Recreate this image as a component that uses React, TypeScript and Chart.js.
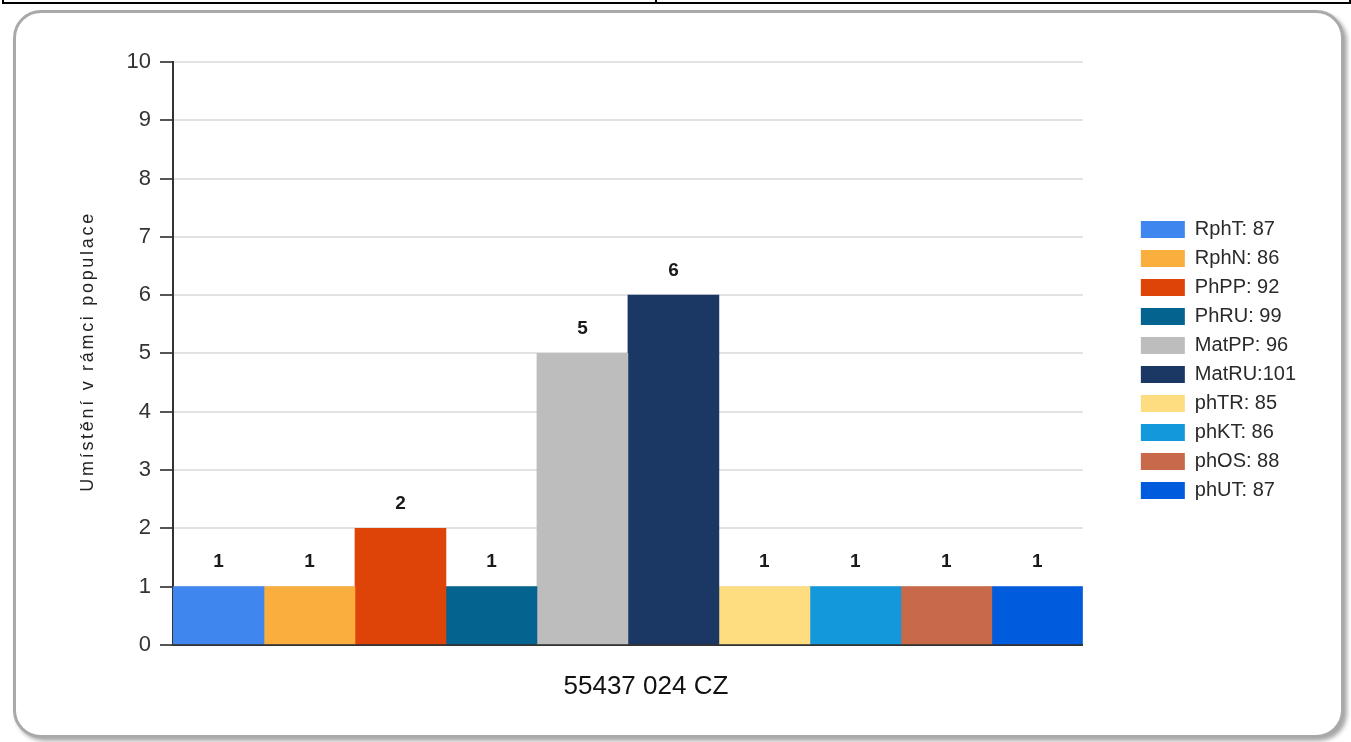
import React, { useEffect, useRef } from "react";
import { Chart, registerables, layouts } from "chart.js";

Chart.register(...registerables);

const category = ["55437 024 CZ"];
const seriesNames = ["RphT", "RphN", "PhPP", "PhRU", "MatPP", "MatRU", "phTR", "phKT", "phOS", "phUT"];
const placements = [1, 1, 2, 1, 5, 6, 1, 1, 1, 1];
const scores = [87, 86, 92, 99, 96, 101, 85, 86, 88, 87];
const colors = ["#3F87EE", "#F9AE3E", "#DE4308", "#05648F", "#BDBDBD", "#1B3764", "#FEDD80", "#1399DB", "#C8694A", "#005BDD"];
const yTicks = [0, 1, 2, 3, 4, 5, 6, 7, 8, 9, 10];
const yTitle = "Umístění v rámci populace";

const FONT = "'Liberation Sans', Arial, sans-serif";

const valueLabels = {
  id: "valueLabels",
  afterDatasetsDraw(chart: any) {
    const ctx = chart.ctx;
    ctx.save();
    ctx.font = `bold 19px ${FONT}`;
    ctx.fillStyle = "#1a1a1a";
    ctx.textAlign = "center";
    ctx.textBaseline = "bottom";
    chart.data.datasets.forEach((ds: any, i: number) => {
      const meta = chart.getDatasetMeta(i);
      meta.data.forEach((el: any, j: number) => {
        ctx.fillText(String(ds.data[j]), el.x, el.y - 15);
      });
    });
    ctx.restore();
  },
};

const yTitlePlugin = {
  id: "yTitlePlugin",
  afterDraw(chart: any) {
    const ctx = chart.ctx;
    const area = chart.chartArea;
    ctx.save();
    ctx.translate(88, (area.top + area.bottom) / 2 - 2);
    ctx.rotate(-Math.PI / 2);
    ctx.font = `18px ${FONT}`;
    (ctx as any).letterSpacing = "2.7px";
    ctx.fillStyle = "#222";
    ctx.textAlign = "center";
    ctx.textBaseline = "middle";
    ctx.fillText(yTitle, 0, 0);
    ctx.restore();
  },
};

// empty layout box that keeps a gap between the plot and the legend
const legendGap = {
  id: "legendGap",
  beforeInit(chart: any) {
    const box: any = {
      id: "legendGapBox",
      position: "right",
      weight: 500,
      fullSize: false,
      options: {},
      top: 0,
      left: 0,
      right: 0,
      bottom: 0,
      width: 0,
      height: 0,
      update(maxWidth: number, maxHeight: number) {
        this.width = 49;
        this.height = maxHeight;
      },
      isHorizontal() {
        return false;
      },
      getPadding() {
        return { top: 0, left: 0, right: 0, bottom: 0 };
      },
      draw() {},
    };
    layouts.addBox(chart, box);
  },
};

export default function App() {
  const ref = useRef<HTMLCanvasElement | null>(null);

  useEffect(() => {
    if (!ref.current) return;
    const chart = new Chart(ref.current, {
      type: "bar",
      data: {
        labels: category,
        datasets: seriesNames.map((name, i) => ({
          label: name,
          data: [placements[i]],
          backgroundColor: colors[i],
          borderWidth: 0,
          categoryPercentage: 1,
          barPercentage: 1,
        })),
      },
      options: {
        animation: false,
        responsive: false,
        maintainAspectRatio: false,
        layout: { padding: { left: 75, top: 62, right: 45, bottom: 22 } },
        plugins: {
          tooltip: { enabled: false },
          legend: {
            position: "right",
            fullSize: false,
            title: { display: true, text: "", padding: 0, font: { size: 11 } },
            labels: {
              boxWidth: 44,
              boxHeight: 17,
              padding: 9,
              color: "#2a2a2a",
              font: { family: FONT, size: 20 },
              generateLabels: (c: any) =>
                c.data.datasets.map((ds: any, i: number) => ({
                  text: scores[i] >= 100 ? `${ds.label}:${scores[i]}` : `${ds.label}: ${scores[i]}`,
                  fillStyle: ds.backgroundColor,
                  strokeStyle: ds.backgroundColor,
                  fontColor: "#2a2a2a",
                  lineWidth: 0,
                  hidden: false,
                  datasetIndex: i,
                })),
            },
          },
        },
        scales: {
          x: {
            grid: { display: false },
            border: { color: "#333", width: 2 },
            ticks: { color: "#111", font: { family: FONT, size: 26 }, padding: 18, labelOffset: 18 },
          },
          y: {
            min: 0,
            max: 10,
            afterFit: (s: any) => {
              s.width = 98;
            },
            afterBuildTicks: (s: any) => {
              s.ticks = yTicks.map((v) => ({ value: v }));
            },
            grid: { color: "#e2e2e2", lineWidth: 2, tickColor: "#555", tickLength: 13 },
            border: { color: "#333", width: 2 },
            ticks: { color: "#333", font: { family: FONT, size: 22 }, padding: 9 },
          },
        },
      },
      plugins: [valueLabels, yTitlePlugin, legendGap],
    });
    return () => chart.destroy();
  }, []);

  return (
    <div style={{ position: "absolute", left: 0, top: 0, width: 1351, height: 742, overflow: "hidden", background: "#fff" }}>
      <div style={{ position: "absolute", left: 2, top: -10, width: 651, height: 10, border: "2px solid #000" }} />
      <div style={{ position: "absolute", left: 655, top: -10, width: 692, height: 10, border: "2px solid #000" }} />
      <div
        style={{
          position: "absolute",
          left: 13,
          top: 10,
          width: 1325,
          height: 722,
          border: "3px solid #a9a9a9",
          borderRadius: 28,
          boxShadow: "3px 3px 4px rgba(0,0,0,0.35)",
          background: "#fff",
        }}
      />
      <canvas ref={ref} width={1351} height={742} style={{ position: "absolute", left: 0, top: 0, width: 1351, height: 742 }} />
    </div>
  );
}
